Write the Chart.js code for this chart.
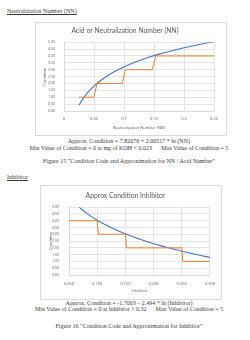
<!DOCTYPE html>
<html>
<head>
<meta charset="utf-8">
<script src="https://cdn.jsdelivr.net/npm/chart.js@4.4.1/dist/chart.umd.min.js"></script>
<style>
  html, body { margin: 0; padding: 0; background: #fff; }
  body { width: 250px; height: 340px; position: relative; overflow: hidden; font-family: "Liberation Serif", serif; color: #3a3a3a; }
  .txt { position: absolute; font-size: 6px; line-height: 6px; white-space: pre; }
  .head { left: 7px; text-decoration: underline; }
  .center { left: 0; width: 258px; text-align: center; }
  .frame { position: absolute; border: 1px solid #d9d9d9; box-sizing: border-box; }
  canvas { display: block; }
</style>
</head>
<body>
<div class="txt head" style="top:8px">Neutralization Number (NN)</div>
<div class="frame" style="left:35px; top:22px; width:192px; height:114px">
  <canvas id="nnChart" width="190" height="112"></canvas>
</div>
<div class="txt center" style="top:138px">Approx. Condition = 7.82076 + 2.00517 * ln (NN)</div>
<div class="txt center" style="top:145px">Min Value of Condition = 0 at mg of KOH &lt; 0.023      Max Value of Condition = 5</div>
<div class="txt center" style="top:158px">Figure 15 “Condition Code and Approximation for NN / Acid Number”</div>

<div class="txt head" style="top:174px">Inhibitor</div>
<div class="frame" style="left:40px; top:185px; width:182px; height:115px">
  <canvas id="inhChart" width="180" height="113"></canvas>
</div>
<div class="txt center" style="top:300px">Approx. Condition = -1.7003 – 2.494 * ln (Inhibitor)</div>
<div class="txt center" style="top:306px">Min Value of Condition = 0 at Inhibitor &gt; 0.32      Max Value of Condition = 5</div>
<div class="txt center" style="top:323px">Figure 16 “Condition Code and Approximation for Inhibitor”</div>

<script>
// values
const yTickLabels = ['0.00', '0.50', '1.00', '1.50', '2.00', '2.50', '3.00', '3.50', '4.00', '4.50', '5.00'];

const nnTickLabels = ['0', '0.05', '0.1', '0.15', '0.2', '0.25'];
const nnCurveX = [0.025, 0.03, 0.04, 0.05, 0.06, 0.07, 0.08, 0.09, 0.1, 0.12, 0.14, 0.16, 0.18, 0.2, 0.22, 0.25];
const nnCurveY = [0.42, 0.79, 1.37, 1.81, 2.18, 2.49, 2.76, 2.99, 3.20, 3.57, 3.88, 4.15, 4.38, 4.59, 4.78, 5.04];
const nnStepX = [0.025, 0.05, 0.055, 0.097, 0.102, 0.147, 0.153, 0.25];
const nnStepY = [1, 1, 2, 2, 3, 3, 4, 4];

const inhTickLabels = ['0.050', '0.100', '0.150', '0.200', '0.250', '0.300'];
const inhCurveX = [0.068, 0.08, 0.09, 0.1, 0.12, 0.14, 0.16, 0.18, 0.2, 0.22, 0.24, 0.26, 0.28, 0.3];
const inhCurveY = [5.00, 4.60, 4.30, 4.04, 3.59, 3.20, 2.87, 2.58, 2.31, 2.08, 1.86, 1.66, 1.47, 1.30];
const inhStepX = [0.05, 0.1, 0.102, 0.15, 0.152, 0.25, 0.252, 0.3];
const inhStepY = [4, 4, 3, 3, 2, 2, 1, 1];

const BLUE = '#4472c4';
const ORANGE = '#ed7d31';
const GRID = '#d9d9d9';
const TEXT = '#595959';

const toPoints = (xs, ys) => xs.map((x, i) => ({ x, y: ys[i] }));

function makeChart(id, opts) {
  const ctx = document.getElementById(id).getContext('2d');
  const xTicks = opts.xLabels.map(Number);
  const yTicks = yTickLabels.map(Number);
  return new Chart(ctx, {
    type: 'line',
    data: {
      datasets: [
        {
          data: toPoints(opts.stepX, opts.stepY),
          borderColor: ORANGE,
          borderWidth: 1,
          pointRadius: 0,
          tension: 0,
        },
        {
          data: toPoints(opts.curveX, opts.curveY),
          borderColor: BLUE,
          borderWidth: 1.1,
          pointRadius: 0,
          cubicInterpolationMode: 'monotone',
        },
      ],
    },
    options: {
      responsive: false,
      animation: false,
      devicePixelRatio: 1,
      layout: { padding: { left: 0, right: opts.padRight, top: 0, bottom: 0 } },
      plugins: {
        legend: { display: false },
        tooltip: { enabled: false },
        title: {
          display: true,
          text: opts.title,
          color: TEXT,
          font: { family: 'Lato', size: 6.8, weight: 'normal' },
          padding: { top: opts.titleTop, bottom: opts.titleBottom },
        },
      },
      scales: {
        x: {
          type: 'linear',
          min: xTicks[0],
          max: xTicks[xTicks.length - 1],
          afterBuildTicks: (s) => { s.ticks = xTicks.map((v) => ({ value: v })); },
          afterFit: (s) => { s.height = 24; },
          grid: { color: GRID, lineWidth: 0.7, drawTicks: false },
          border: { color: GRID },
          ticks: {
            color: TEXT,
            padding: opts.xTickPad,
            maxRotation: 0,
            autoSkip: false,
            font: { family: 'Open Sans', size: 4 },
            callback: (v, i) => opts.xLabels[i],
          },
          title: {
            display: true,
            text: opts.xTitle,
            color: TEXT,
            font: { family: 'Open Sans', size: 4 },
            padding: { top: 0, bottom: opts.xTitleBottom },
          },
        },
        y: {
          min: 0,
          max: 5,
          afterBuildTicks: (s) => { s.ticks = yTicks.map((v) => ({ value: v })); },
          afterFit: (s) => { s.width = 28; },
          grid: { color: GRID, lineWidth: 0.7, drawTicks: false },
          border: { color: GRID },
          ticks: {
            color: TEXT,
            padding: opts.yTickPad,
            autoSkip: false,
            font: { family: 'Open Sans', size: 3.6 },
            callback: (v, i) => yTickLabels[i],
          },
          title: {
            display: true,
            text: 'Condition',
            color: TEXT,
            font: { family: 'Open Sans', size: 4 },
            padding: { top: opts.yTitleTop, bottom: 0 },
          },
        },
      },
    },
  });
}

makeChart('nnChart', {
  title: 'Acid or Neutralization Number (NN)',
  xTitle: 'Neutralization Number (NN)',
  xLabels: nnTickLabels,
  curveX: nnCurveX, curveY: nnCurveY,
  stepX: nnStepX, stepY: nnStepY,
  padRight: 12, titleTop: 4, titleBottom: 7,
  xTickPad: 5, xTitleBottom: 5, yTickPad: 9, yTitleTop: 6,
});

makeChart('inhChart', {
  title: 'Approx Condition Inhibitor',
  xTitle: 'Inhibitor',
  xLabels: inhTickLabels,
  curveX: inhCurveX, curveY: inhCurveY,
  stepX: inhStepX, stepY: inhStepY,
  padRight: 11, titleTop: 6, titleBottom: 7,
  xTickPad: 6, xTitleBottom: 6, yTickPad: 10, yTitleTop: 7,
});
</script>
</body>
</html>
